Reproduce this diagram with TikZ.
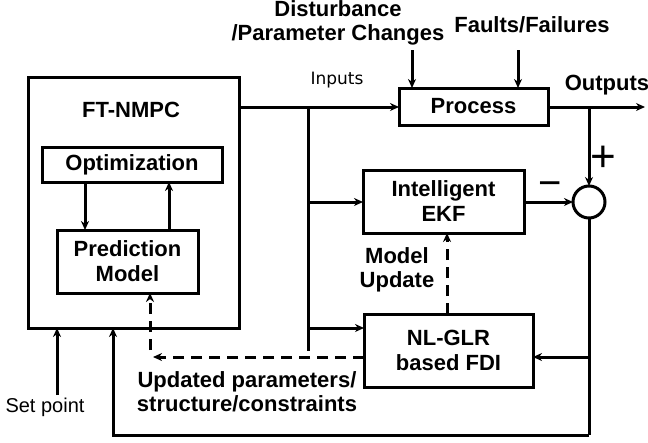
\documentclass[tikz,border=0pt]{standalone}
\usepackage{fontspec}
\setmainfont{Liberation Sans}
\newfontfamily\inputsfont{DejaVu Sans}
\usetikzlibrary{arrows.meta,calc}
\begin{document}
\begin{tikzpicture}[x=1pt,y=-1pt,
  every node/.style={inner sep=0pt,outer sep=0pt},
  blk/.style={draw,line width=3pt,rectangle,font=\fontsize{22}{25}\selectfont\bfseries,align=center},
  lbl/.style={font=\fontsize{22}{24}\selectfont\bfseries,align=center},
  conn/.style={line width=3pt,-{Stealth[length=9pt,width=8pt]}},
  wire/.style={line width=3pt},
  dconn/.style={line width=3pt,dash pattern=on 11pt off 7pt,-{Stealth[length=9pt,width=8pt]}}]
\useasboundingbox (0,0) rectangle (648,442);
% blocks
\node[blk,minimum width=211pt,minimum height=251pt] (nmpc) at (133.5,202.5) {};
\node[lbl] (nmpct) at (131,110) {FT-NMPC};
\node[blk,minimum width=180pt,minimum height=35pt] (opt) at (132,164.5) {Optimization};
\node[blk,minimum width=141pt,minimum height=63pt] (pred) at (127.5,261.5) {Prediction\\Model};
\node[blk,minimum width=149pt,minimum height=37pt] (proc) at (473.5,106.5) {Process};
\node[blk,minimum width=161pt,minimum height=63pt] (ekf) at (443.5,201.5) {Intelligent\\EKF};
\node[blk,minimum width=169pt,minimum height=73pt] (fdi) at (448.5,350.5) {NL-GLR\\based FDI};
\node[draw,line width=3pt,circle,minimum size=32pt] (sum) at (589,202) {};
% labels
\node[lbl] (dist) at (338,23) {Disturbance\\/Parameter Changes};
\node[lbl] (faults) at (532,25) {Faults/Failures};
\node[font=\fontsize{17}{20}\selectfont\inputsfont] (inp) at (337,80) {Inputs};
\node[lbl] (outp) at (607,85) {Outputs};
\node[font=\fontsize{44}{44}\selectfont] (plus) at (603,159) {+};
\node[font=\fontsize{40}{40}\selectfont] (minus) at (550,189) {−};
\node[lbl] (mu) at (397,270) {Model\\Update};
\node[lbl] (upd) at (247,392) {Updated parameters/\\structure/constraints};
\node[font=\fontsize{20}{24}\selectfont] (sp) at (45,407) {Set point};
% coordinates
\coordinate (dtop) at (412,50);
\coordinate (ftop) at (518,50);
\coordinate (inj) at (308,107);
\coordinate (outend) at (645,107);
\coordinate (outj) at (589,107);
\coordinate (fbj) at (589,357);
\coordinate (fbb) at (589,435);
\coordinate (fbl) at (113,435);
\coordinate (spb) at (57,395);
\coordinate (dtip) at (153,357);
\coordinate (dstart) at (150,350);
% internal arrows
\draw[conn] (opt.south -| 85,0) -- (pred.north -| 85,0);
\draw[conn] (pred.north -| 169,0) -- (opt.south -| 169,0);
% disturbance, faults
\draw[conn] (dtop) -- (proc.north -| dtop);
\draw[conn] (ftop) -- (proc.north -| ftop);
% inputs
\draw[conn] (nmpc.east |- inj) -- (proc.west |- inj);
\draw[wire] (inj) -- (inj |- fdi.west) ;
\draw[conn] (inj |- 0,202) -- (ekf.west |- 0,202);
\draw[conn] (inj |- 0,328) -- (fdi.west |- 0,328);
% outputs
\draw[conn] (proc.east |- outj) -- (outend);
\draw[conn] (outj) -- (sum.north);
\draw[conn] (ekf.east |- sum.west) -- (sum.west);
% feedback
\draw[wire] (sum.south) -- (fbb);
\draw[conn] (fbj) -- (fdi.east |- fbj);
\draw[conn] (fbb) -- (fbl) -- (nmpc.south -| fbl);
\draw[conn] (spb) -- (nmpc.south -| spb);
% dashed
\draw[dconn] (fdi.north -| 447,0) -- (ekf.south -| 447,0);
\draw[dconn] (fdi.west |- dtip) -- (dtip);
\draw[dconn] (dstart) -- (pred.south -| dstart);
\end{tikzpicture}
\end{document}
